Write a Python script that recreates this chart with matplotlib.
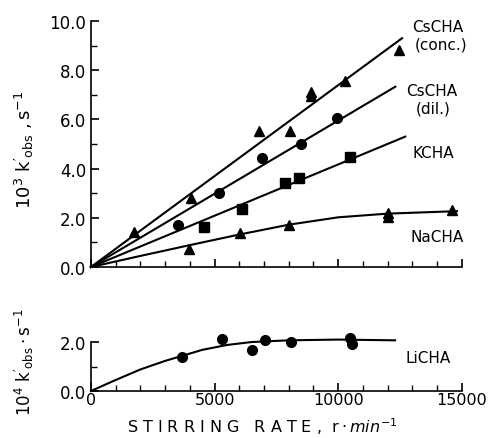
import matplotlib.pyplot as plt
from matplotlib.ticker import MultipleLocator

# data (stirring rate in r/min)
cs_conc_x = [1750, 4050, 6810, 8030, 8910, 8910, 10260, 12450]
cs_conc_y = [1.41, 2.79, 5.54, 5.54, 7.13, 6.97, 7.55, 8.83]
cs_conc_fit_x = [0, 12580]
cs_conc_fit_y = [0, 9.3]

cs_dil_x = [3510, 5190, 6910, 8490, 9950]
cs_dil_y = [1.71, 3.00, 4.43, 5.00, 6.04]
cs_dil_fit_x = [0, 12310]
cs_dil_fit_y = [0, 7.33]

k_x = [4590, 6100, 7830, 8430, 10490]
k_y = [1.64, 2.36, 3.40, 3.62, 4.48]
k_fit_x = [0, 12710]
k_fit_y = [0, 5.3]

na_x = [3980, 6030, 8000, 12010, 12010, 14620]
na_y = [0.73, 1.37, 1.72, 2.20, 2.05, 2.33]
na_fit_x = [0, 2000, 4000, 6000, 8000, 10000, 12000, 14800]
na_fit_y = [0, 0.45, 0.89, 1.32, 1.72, 2.02, 2.17, 2.27]

li_x = [3670, 5290, 6500, 7040, 8080, 10490, 10550]
li_y = [1.38, 2.14, 1.68, 2.09, 2.02, 2.16, 1.93]
li_fit_x = [0, 1000, 2000, 3000, 3670, 4500, 5500, 6500, 8000, 10000, 12300]
li_fit_y = [0, 0.45, 0.88, 1.23, 1.43, 1.68, 1.88, 2.00, 2.07, 2.10, 2.07]

fig = plt.figure(figsize=(4.94, 4.39), dpi=100)
ax1 = fig.add_axes([0.184, 0.3895, 0.751, 0.5604])
ax2 = fig.add_axes([0.184, 0.107, 0.751, 0.1116])

kw = dict(color="black", linewidth=1.5, clip_on=False)
mk = dict(color="black", linestyle="none", markersize=7, clip_on=False)

ax1.plot(cs_conc_fit_x, cs_conc_fit_y, **kw)
ax1.plot(cs_dil_fit_x, cs_dil_fit_y, **kw)
ax1.plot(k_fit_x, k_fit_y, **kw)
ax1.plot(na_fit_x, na_fit_y, **kw)
ax1.plot(cs_conc_x, cs_conc_y, marker="^", **mk)
ax1.plot(cs_dil_x, cs_dil_y, marker="o", **mk)
ax1.plot(k_x, k_y, marker="s", **mk)
ax1.plot(na_x, na_y, marker="^", **mk)

ax2.plot(li_fit_x, li_fit_y, **kw)
ax2.plot(li_x, li_y, marker="o", **mk)

for ax in (ax1, ax2):
    ax.set_xlim(0, 15000)
    ax.spines["top"].set_visible(False)
    ax.spines["right"].set_visible(False)
    for s in ("left", "bottom"):
        ax.spines[s].set_linewidth(1.2)
    ax.xaxis.set_major_locator(MultipleLocator(5000))
    ax.xaxis.set_minor_locator(MultipleLocator(1000))
    ax.tick_params(which="major", direction="in", length=6, width=1.2, labelsize=12)
    ax.tick_params(which="minor", direction="in", length=4, width=1.0)

ax1.set_ylim(0, 10)
ax1.yaxis.set_major_locator(MultipleLocator(2))
ax1.yaxis.set_minor_locator(MultipleLocator(1))
ax1.yaxis.set_major_formatter(lambda v, p: f"{v:.1f}")
ax1.tick_params(axis="x", labelbottom=False)

ax2.set_ylim(0, 2.0)
ax2.yaxis.set_major_locator(MultipleLocator(2))
ax2.yaxis.set_minor_locator(MultipleLocator(1))
ax2.yaxis.set_major_formatter(lambda v, p: f"{v:.1f}")
ax2.set_xticks([0, 5000, 10000, 15000])
ax2.set_xticklabels(["0", "5000", "10000", "15000"])
ax2.tick_params(axis="x", which="major", pad=1, labelsize=11.5)

# curve labels
lab = dict(fontsize=11, ha="center", va="center")
fig.text(438 / 494, 1 - 27 / 439, "CsCHA", **lab)
fig.text(441 / 494, 1 - 45 / 439, "(conc.)", **lab)
fig.text(432 / 494, 1 - 92 / 439, "CsCHA", **lab)
fig.text(433 / 494, 1 - 109 / 439, "(dil.)", **lab)
fig.text(433 / 494, 1 - 154 / 439, "KCHA", **lab)
fig.text(437 / 494, 1 - 238 / 439, "NaCHA", **lab)
fig.text(428 / 494, 1 - 359 / 439, "LiCHA", **lab)

fig.text(24 / 494, 1 - 150 / 439, r"$\mathregular{10^3\ k'_{obs}\ ,s^{-1}}$",
         rotation=90, fontsize=13, ha="center", va="center")
fig.text(24 / 494, 1 - 362 / 439, r"$\mathregular{10^4\ k'_{obs}\cdot s^{-1}}$",
         rotation=90, fontsize=12, ha="center", va="center")
fig.text(262 / 494, 1 - 427 / 439, r"S T I R R I N G   R A T E ,  $\mathregular{r\cdot \mathit{min}^{-1}}$",
         fontsize=11.5, ha="center", va="center")

fig.savefig("out.png", dpi=100)
